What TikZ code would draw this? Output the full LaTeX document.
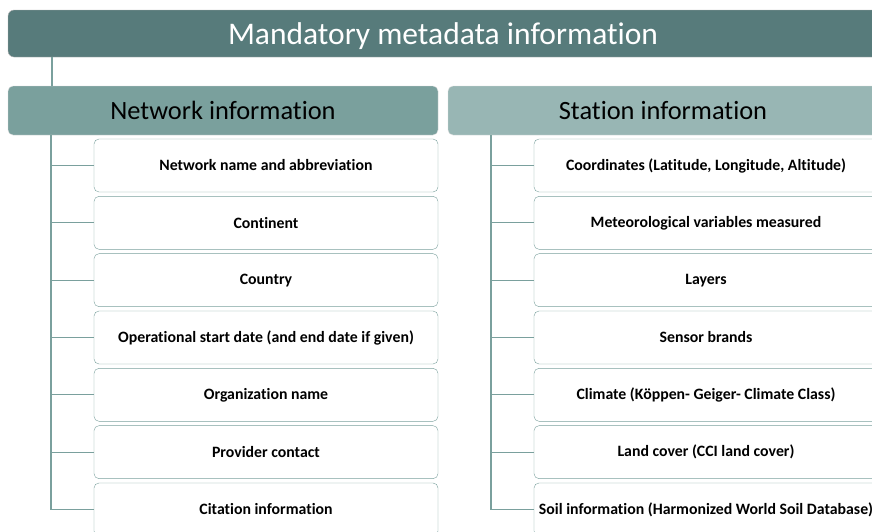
\documentclass[tikz,border=0pt]{standalone}
\usepackage{fontspec}
\setmainfont{Carlito}[Ligatures={NoCommon,NoContextual}]
\usetikzlibrary{positioning}

\definecolor{topfill}{RGB}{87,123,123}
\definecolor{netfill}{RGB}{122,160,157}
\definecolor{stafill}{RGB}{152,182,180}
\definecolor{linkcol}{RGB}{122,160,157}

\tikzset{
  topbar/.style={draw=gray!60, fill=topfill, rounded corners=6pt, text=white,
    minimum width=870pt, minimum height=47pt, inner sep=0pt, text depth=0pt,
    font=\fontsize{31.5}{36}\selectfont},
  headbox/.style={draw=gray!25, rounded corners=5pt, text=black,
    minimum width=430pt, minimum height=49pt, inner sep=0pt, text depth=0pt,
    font=\fontsize{26.4}{30}\selectfont},
  leafbox/.style={draw=linkcol, fill=white, rounded corners=5pt,
    minimum width=344pt, minimum height=53pt, inner sep=0pt,
    font=\bfseries\fontsize{15.8}{18}\selectfont},
  link/.style={draw=linkcol, line width=1.2pt}
}

\begin{document}
\begin{tikzpicture}[x=1pt, y=-1pt]
\clip (0,0) rectangle (872,531);
\fill[white] (0,0) rectangle (872,531);

\node[topbar] (mand) at (443,33.5) {Mandatory metadata information};
\node[headbox, fill=netfill] (net) at (223,110.5) {Network information};
\node[headbox, fill=stafill] (sta) at (663,110.5) {Station information};

\coordinate (netspine) at (51,135);
\coordinate (staspine) at (491,135);
\draw[link] (mand.south -| 52,0) -- (net.north -| 52,0);

% network items
\foreach \t [count=\i] in {Network name and abbreviation, Continent, Country,
    Operational start date (and end date if given), Organization name,
    Provider contact, Citation information}
  \node[leafbox] (net\i) at (266,165.5+57.33*\i-57.33) {\t};
\foreach \i in {1,...,7}
  \draw[link] (netspine) |- (net\i.west);

% station items
\foreach \t [count=\i] in {{Coordinates (Latitude, Longitude, Altitude)},
    Meteorological variables measured, Layers, Sensor brands,
    Climate (Köppen- Geiger- Climate Class), Land cover (CCI land cover),
    Soil information (Harmonized World Soil Database)}
  \node[leafbox] (sta\i) at (706,165.5+57.33*\i-57.33) {\t};
\foreach \i in {1,...,7}
  \draw[link] (staspine) |- (sta\i.west);
\end{tikzpicture}
\end{document}
